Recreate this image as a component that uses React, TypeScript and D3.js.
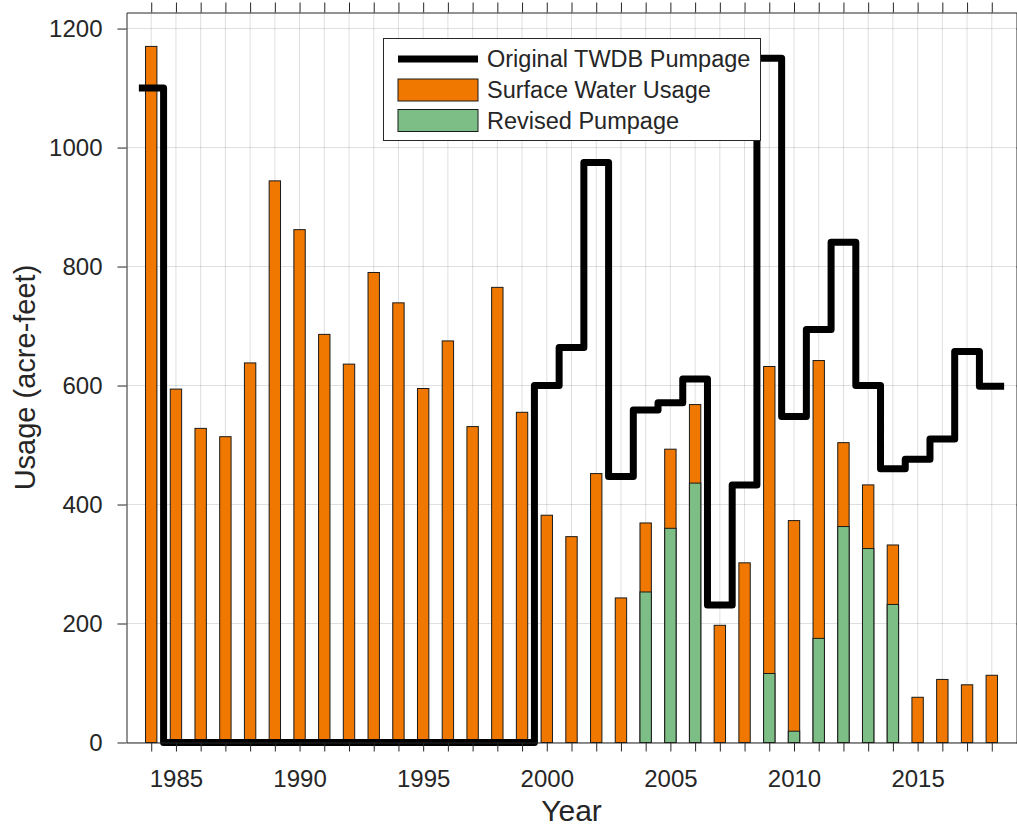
import React, { useEffect, useRef } from "react";
import * as d3 from "d3";

const years = [
  1984, 1985, 1986, 1987, 1988, 1989, 1990, 1991, 1992, 1993, 1994, 1995,
  1996, 1997, 1998, 1999, 2000, 2001, 2002, 2003, 2004, 2005, 2006, 2007,
  2008, 2009, 2010, 2011, 2012, 2013, 2014, 2015, 2016, 2017, 2018,
];

// top of each orange bar (acre-feet)
const surfaceWaterUsage = [
  1170, 594, 528, 514, 638, 944, 862, 686, 636, 790, 739, 595, 675, 531, 765,
  555, 382, 346, 452, 243, 369, 493, 568, 197, 302, 632, 373, 642, 504, 433,
  332, 76, 106, 97, 113,
];

const revisedYears = [2004, 2005, 2006, 2009, 2010, 2011, 2012, 2013, 2014];
const revisedPumpage = [253, 360, 436, 116, 19, 175, 363, 326, 232];

const originalPumpage = [
  1100, 0, 0, 0, 0, 0, 0, 0, 0, 0, 0, 0, 0, 0, 0, 0, 600, 664, 975, 447, 559,
  571, 611, 231, 433, 1150, 548, 694, 841, 600, 460, 476, 510, 657, 599,
];

const yTicks = [0, 200, 400, 600, 800, 1000, 1200];

const FONT = "'Liberation Sans', Arial, Helvetica, sans-serif";
const AXIS = "#262626";
const ORANGE = "#F07800";
const GREEN = "#7DBE86";

const App: React.FC = () => {
  const svgRef = useRef<SVGSVGElement | null>(null);

  useEffect(() => {
    if (!svgRef.current) return;
    const svg = d3.select(svgRef.current);
    svg.selectAll("*").remove();

    const width = 1017;
    const height = 826;
    const left = 126.5;
    const right = 1016.5;
    const top = 12.5;
    const bottom = 742.5;

    svg.attr("width", width).attr("height", height);
    svg
      .append("rect")
      .attr("width", width)
      .attr("height", height)
      .attr("fill", "#fff");

    const x = d3.scaleLinear().domain([1983, 2019]).range([left, right]);
    const y = d3.scaleLinear().domain([0, 1227]).range([bottom, top]);

    // grid
    const grid = svg.append("g");
    grid
      .selectAll("line.vg")
      .data(years)
      .enter()
      .append("line")
      .attr("x1", (d) => x(d))
      .attr("x2", (d) => x(d))
      .attr("y1", top)
      .attr("y2", bottom)
      .attr("stroke", AXIS)
      .attr("stroke-opacity", 0.15)
      .attr("stroke-width", 1);
    grid
      .selectAll("line.hg")
      .data(yTicks)
      .enter()
      .append("line")
      .attr("x1", left)
      .attr("x2", right)
      .attr("y1", (d) => y(d))
      .attr("y2", (d) => y(d))
      .attr("stroke", AXIS)
      .attr("stroke-opacity", 0.15)
      .attr("stroke-width", 1);

    const barW = x(1983.46) - x(1983);

    // orange bars
    svg
      .append("g")
      .selectAll("rect")
      .data(years.map((yr, i) => ({ yr, v: surfaceWaterUsage[i] })))
      .enter()
      .append("rect")
      .attr("x", (d) => x(d.yr) - barW / 2)
      .attr("y", (d) => y(d.v))
      .attr("width", barW)
      .attr("height", (d) => y(0) - y(d.v))
      .attr("fill", ORANGE)
      .attr("stroke", "#1a1a1a")
      .attr("stroke-width", 1);

    // green bars
    svg
      .append("g")
      .selectAll("rect")
      .data(revisedYears.map((yr, i) => ({ yr, v: revisedPumpage[i] })))
      .enter()
      .append("rect")
      .attr("x", (d) => x(d.yr) - barW / 2)
      .attr("y", (d) => y(d.v))
      .attr("width", barW)
      .attr("height", (d) => y(0) - y(d.v))
      .attr("fill", GREEN)
      .attr("stroke", "#1a1a1a")
      .attr("stroke-width", 1);

    // stairs line
    const pts: [number, number][] = years.map((yr, i) => [
      yr - 0.5,
      originalPumpage[i],
    ]);
    pts.push([years[years.length - 1] + 0.5, originalPumpage[originalPumpage.length - 1]]);
    const line = d3
      .line<[number, number]>()
      .x((d) => x(d[0]))
      .y((d) => y(d[1]))
      .curve(d3.curveStepAfter);
    svg
      .append("path")
      .datum(pts)
      .attr("fill", "none")
      .attr("stroke", "#000")
      .attr("stroke-width", 7)
      .attr("stroke-linejoin", "round")
      .attr("stroke-linecap", "butt")
      .attr("d", line);

    // axes
    const styleAxis = (g: d3.Selection<SVGGElement, unknown, null, undefined>) => {
      g.select(".domain").attr("stroke", AXIS).attr("stroke-width", 1);
      g.selectAll(".tick line").attr("stroke", AXIS).attr("stroke-width", 1);
      g.selectAll(".tick text")
        .attr("fill", AXIS)
        .style("font-family", FONT)
        .style("font-size", "24px");
    };

    const fmtYear = (d: d3.NumberValue) => (+d % 5 === 0 ? String(d) : "");

    const xAxisB = svg
      .append("g")
      .attr("transform", `translate(0,${bottom})`)
      .call(
        d3
          .axisBottom(x)
          .tickValues(years)
          .tickFormat(fmtYear)
          .tickSize(9)
          .tickSizeOuter(0)
          .tickPadding(18)
      );
    styleAxis(xAxisB);

    const xAxisT = svg
      .append("g")
      .attr("transform", `translate(0,${top})`)
      .call(
        d3.axisTop(x).tickValues(years).tickFormat(() => "").tickSize(10).tickSizeOuter(0)
      );
    styleAxis(xAxisT);

    const yAxisL = svg
      .append("g")
      .attr("transform", `translate(${left},0)`)
      .call(
        d3
          .axisLeft(y)
          .tickValues(yTicks)
          .tickFormat((d) => String(d))
          .tickSize(9)
          .tickSizeOuter(0)
          .tickPadding(15)
      );
    styleAxis(yAxisL);

    const yAxisR = svg
      .append("g")
      .attr("transform", `translate(${right},0)`)
      .call(d3.axisRight(y).tickValues(yTicks).tickFormat(() => "").tickSize(9).tickSizeOuter(0));
    styleAxis(yAxisR);

    // axis labels
    svg
      .append("text")
      .attr("x", (left + right) / 2)
      .attr("y", 821)
      .attr("text-anchor", "middle")
      .attr("fill", AXIS)
      .style("font-family", FONT)
      .style("font-size", "30px")
      .text("Year");
    svg
      .append("text")
      .attr("transform", `translate(35,${(top + bottom) / 2}) rotate(-90)`)
      .attr("text-anchor", "middle")
      .attr("fill", AXIS)
      .style("font-family", FONT)
      .style("font-size", "29px")
      .text("Usage (acre-feet)");

    // legend
    const lg = svg.append("g");
    lg.append("rect")
      .attr("x", 383.5)
      .attr("y", 38.5)
      .attr("width", 377)
      .attr("height", 102)
      .attr("fill", "#fff")
      .attr("stroke", AXIS)
      .attr("stroke-width", 1);
    const entries = [
      { label: "Original TWDB Pumpage", type: "line", color: "#000", cy: 59 },
      { label: "Surface Water Usage", type: "patch", color: ORANGE, cy: 90 },
      { label: "Revised Pumpage", type: "patch", color: GREEN, cy: 120.5 },
    ];
    entries.forEach((e) => {
      if (e.type === "line") {
        lg.append("line")
          .attr("x1", 398)
          .attr("x2", 478)
          .attr("y1", e.cy)
          .attr("y2", e.cy)
          .attr("stroke", e.color)
          .attr("stroke-width", 7);
      } else {
        lg.append("rect")
          .attr("x", 398)
          .attr("y", e.cy - 11)
          .attr("width", 80)
          .attr("height", 22)
          .attr("fill", e.color)
          .attr("stroke", "#1a1a1a")
          .attr("stroke-width", 1);
      }
      lg.append("text")
        .attr("x", 487)
        .attr("y", e.cy)
        .attr("dy", "0.35em")
        .attr("fill", AXIS)
        .style("font-family", FONT)
        .style("font-size", "23.5px")
        .text(e.label);
    });
  }, []);

  return (
    <svg
      ref={svgRef}
      style={{ position: "absolute", left: 0, top: 0, display: "block" }}
    ></svg>
  );
};

export default App;
